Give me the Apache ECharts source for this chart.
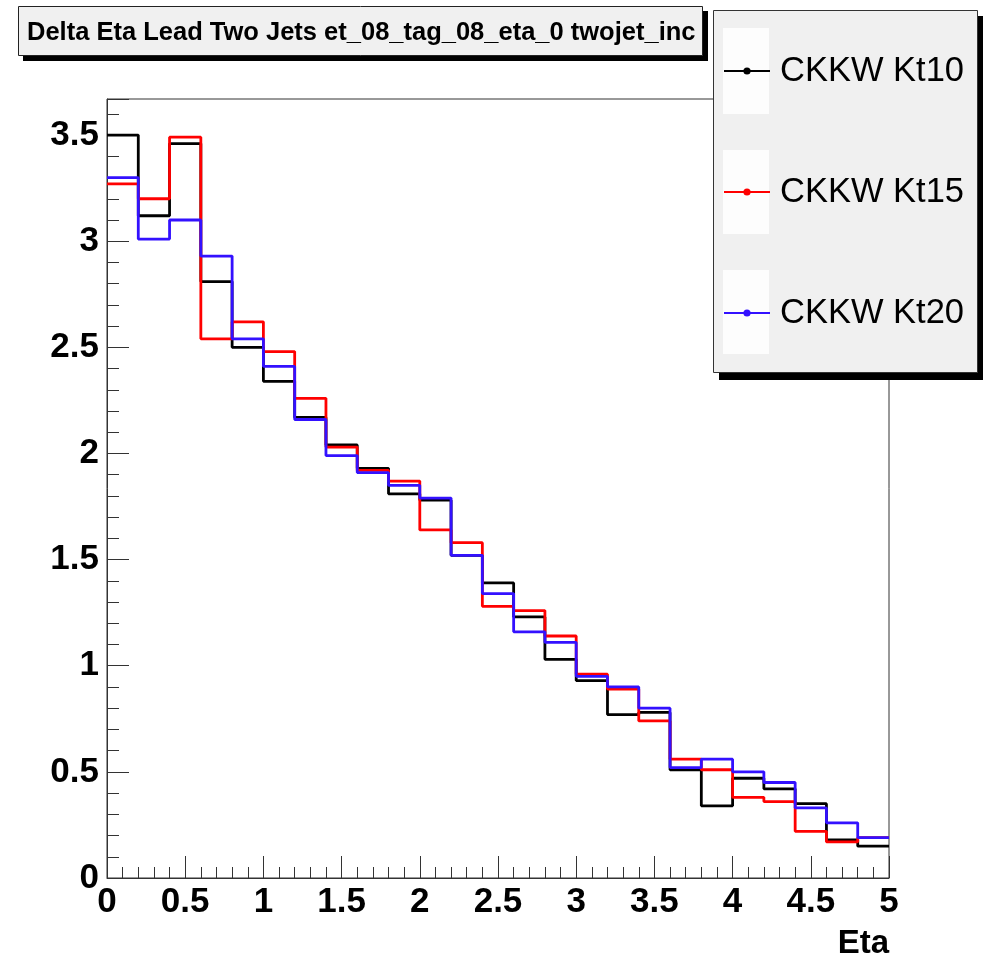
<!DOCTYPE html>
<html>
<head>
<meta charset="utf-8">
<script src="https://cdn.jsdelivr.net/npm/echarts@6/dist/echarts.min.js"></script>
<style>
  html, body { margin: 0; padding: 0; background: #fff; }
  #chart { width: 983px; height: 960px; }
</style>
</head>
<body>
<div id="chart"></div>
<script>
// bin edges in Eta (25 bins of 0.2)
const etaEdges = [0, 0.2, 0.4, 0.6, 0.8, 1.0, 1.2, 1.4, 1.6, 1.8, 2.0, 2.2, 2.4,
    2.6, 2.8, 3.0, 3.2, 3.4, 3.6, 3.8, 4.0, 4.2, 4.4, 4.6, 4.8, 5.0];

const kt10 = [3.50, 3.12, 3.46, 2.81, 2.50, 2.34, 2.17, 2.04, 1.93, 1.81, 1.78, 1.52, 1.39,
    1.23, 1.03, 0.93, 0.77, 0.78, 0.51, 0.34, 0.47, 0.42, 0.35, 0.18, 0.15];
const kt15 = [3.27, 3.20, 3.49, 2.54, 2.62, 2.48, 2.26, 2.03, 1.92, 1.87, 1.64, 1.58, 1.28,
    1.26, 1.14, 0.96, 0.89, 0.74, 0.56, 0.51, 0.38, 0.36, 0.22, 0.17, 0.19];
const kt20 = [3.30, 3.01, 3.10, 2.93, 2.54, 2.41, 2.16, 1.99, 1.91, 1.85, 1.79, 1.52, 1.34,
    1.16, 1.11, 0.95, 0.90, 0.80, 0.52, 0.56, 0.50, 0.45, 0.33, 0.26, 0.19];

const seriesNames = ['CKKW Kt10', 'CKKW Kt15', 'CKKW Kt20'];
const seriesColors = ['#000000', '#ff0000', '#3311ff'];

const titleText = 'Delta Eta Lead Two Jets et_08_tag_08_eta_0 twojet_inc';
const xName = 'Eta';

// histogram outline: each bin value held from its low edge to the next edge
function histPoints(values) {
    const pts = values.map((v, i) => [etaEdges[i], v]);
    pts.push([etaEdges[values.length], values[values.length - 1]]);
    return pts;
}

const fontFam = '"Liberation Sans", Arial, Helvetica, sans-serif';
const frameColor = '#333';

const chart = echarts.init(document.getElementById('chart'), null, { renderer: 'canvas' });

const option = {
    animation: false,
    backgroundColor: '#ffffff',
    title: {
        text: titleText,
        left: 27,
        top: 18,
        padding: 0,
        textStyle: { fontFamily: fontFam, fontWeight: 'bold', fontSize: 25.5, color: '#000', lineHeight: 30 }
    },
    legend: {
        orient: 'vertical',
        left: 723,
        top: 51,
        padding: 0,
        itemGap: 81,
        itemWidth: 46,
        itemHeight: 9,
        z: 20,
        data: seriesNames,
        textStyle: { fontFamily: fontFam, fontSize: 34.5, color: '#000', lineHeight: 40, padding: [0, 0, 0, 5] }
    },
    grid: {
        left: 107,
        right: 94,
        top: 99,
        bottom: 79,
        show: true,
        borderColor: frameColor,
        borderWidth: 1,
        backgroundColor: '#ffffff'
    },
    xAxis: {
        type: 'value',
        min: 0,
        max: 5,
        interval: 0.5,
        name: xName,
        nameLocation: 'end',
        nameGap: 0,
        nameTextStyle: {
            fontFamily: fontFam, fontWeight: 'bold', fontSize: 33, color: '#000',
            align: 'right', verticalAlign: 'top', padding: [49, 0, 0, 0]
        },
        axisLine: { onZero: false, lineStyle: { color: frameColor, width: 1 } },
        axisTick: { inside: true, length: 22, lineStyle: { color: frameColor, width: 1 } },
        minorTick: { show: true, splitNumber: 5, length: 11, lineStyle: { color: frameColor, width: 1 } },
        axisLabel: { margin: 7, fontFamily: fontFam, fontWeight: 'bold', fontSize: 35, color: '#000' },
        splitLine: { show: false }
    },
    yAxis: [
        {
            type: 'value',
            min: 0,
            max: 3.67,
            interval: 0.5,
            axisLine: { show: true, onZero: false, lineStyle: { color: frameColor, width: 1 } },
            axisTick: { inside: true, length: 22, lineStyle: { color: frameColor, width: 1 } },
            axisLabel: {
                margin: 8,
                fontFamily: fontFam, fontWeight: 'bold', fontSize: 35, color: '#000',
                formatter: function (v) {
                    const k = Math.round(v * 2);
                    return Math.abs(v * 2 - k) < 1e-6 ? String(k / 2) : '';
                }
            },
            splitLine: { show: false }
        },
        {
            // minor ticks every 0.1
            type: 'value',
            min: 0,
            max: 3.67,
            interval: 0.1,
            position: 'left',
            axisLine: { show: false },
            axisTick: { show: true, inside: true, length: 12, lineStyle: { color: frameColor, width: 1 } },
            axisLabel: { show: false },
            splitLine: { show: false }
        }
    ],
    graphic: [
        // title box with hard shadow
        { type: 'rect', z: 1, shape: { x: 23, y: 11, width: 685, height: 50 }, style: { fill: '#000' } },
        { type: 'rect', z: 2, shape: { x: 18.5, y: 6.5, width: 684, height: 49 }, style: { fill: '#f0f0f0', stroke: '#222', lineWidth: 1 } },
        // legend box with hard shadow
        { type: 'rect', z: 10, shape: { x: 719, y: 16, width: 264, height: 364 }, style: { fill: '#000' } },
        { type: 'rect', z: 11, shape: { x: 713.5, y: 10.5, width: 264, height: 362 }, style: { fill: '#f0f0f0', stroke: '#333', lineWidth: 1 } },
        { type: 'rect', z: 12, shape: { x: 723, y: 28, width: 46, height: 86 }, style: { fill: '#fdfdfd' } },
        { type: 'rect', z: 12, shape: { x: 723, y: 150, width: 46, height: 84 }, style: { fill: '#fdfdfd' } },
        { type: 'rect', z: 12, shape: { x: 723, y: 270, width: 46, height: 84 }, style: { fill: '#fdfdfd' } }
    ],
    series: seriesNames.map((name, i) => ({
        name: name,
        type: 'line',
        step: 'end',
        yAxisIndex: 0,
        symbol: 'circle',
        symbolSize: 7,
        showSymbol: false,
        itemStyle: { color: seriesColors[i] },
        lineStyle: { color: seriesColors[i], width: 2.8 },
        data: histPoints([kt10, kt15, kt20][i])
    }))
};

chart.setOption(option);
</script>
</body>
</html>
